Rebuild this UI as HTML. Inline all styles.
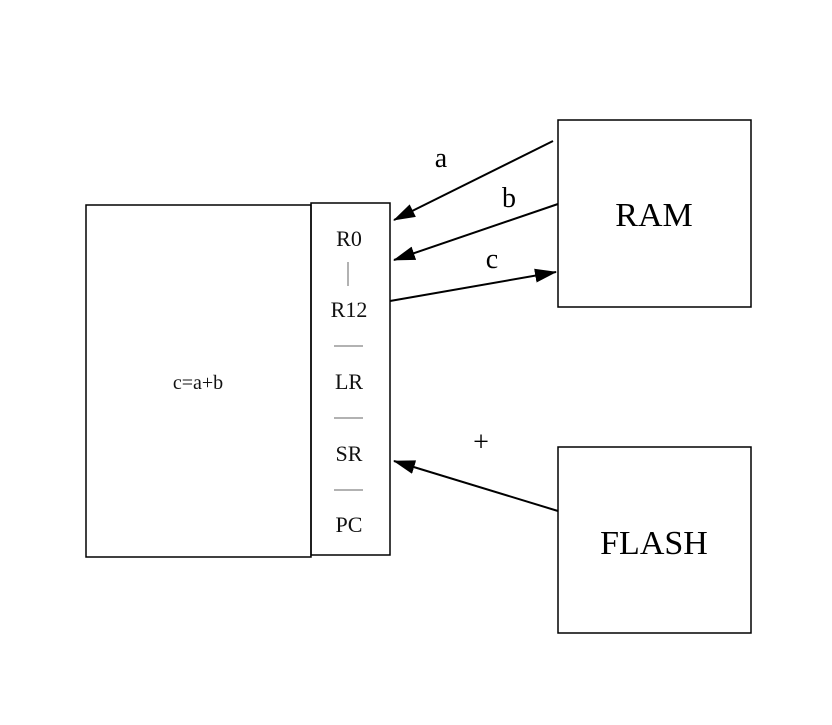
<!DOCTYPE html>
<html><head><style>body{margin:0;background:#fff}</style></head><body>
<svg width="832" height="720" viewBox="0 0 832 720" xmlns="http://www.w3.org/2000/svg" font-family="Liberation Serif, serif">
<defs>
<marker id="a2" markerWidth="22" markerHeight="14" refX="21" refY="7" orient="auto" markerUnits="userSpaceOnUse"><path d="M0,0 L22,7 L0,14z" fill="#000"/></marker></defs>
<g fill="none" stroke="#000" stroke-width="1.5">
<rect x="86" y="205" width="225" height="352"/>
<rect x="311" y="203" width="79" height="352"/>
<rect x="558" y="120" width="193" height="187"/>
<rect x="558" y="447" width="193" height="186"/>
<line x1="553" y1="141" x2="394" y2="220" marker-end="url(#a2)" stroke-width="2"/>
<line x1="558" y1="204" x2="394" y2="260" marker-end="url(#a2)" stroke-width="2"/>
<line x1="390" y1="301" x2="556" y2="272" marker-end="url(#a2)" stroke-width="2"/>
<line x1="558" y1="511" x2="394" y2="461" marker-end="url(#a2)" stroke-width="2"/>
</g>
<g stroke="#999" stroke-width="1.5">
<line x1="348" y1="262" x2="348" y2="286"/>
<line x1="334" y1="346" x2="363" y2="346"/>
<line x1="334" y1="418" x2="363" y2="418"/>
<line x1="334" y1="490" x2="363" y2="490"/>
</g>
<g font-size="22" text-anchor="middle" fill="#111">
<text x="349" y="246">R0</text>
<text x="349" y="317">R12</text>
<text x="349" y="389">LR</text>
<text x="349" y="461">SR</text>
<text x="349" y="532">PC</text>
</g>
<text x="198" y="389" font-size="20" text-anchor="middle" fill="#111">c=a+b</text>
<text x="654" y="226" font-size="34" text-anchor="middle">RAM</text>
<text x="654" y="554" font-size="34" text-anchor="middle">FLASH</text>
<g font-size="28" text-anchor="middle">
<text x="441" y="167">a</text>
<text x="509" y="207">b</text>
<text x="492" y="268">c</text>
<text x="481" y="451">+</text>
</g>
</svg>
</body></html>
